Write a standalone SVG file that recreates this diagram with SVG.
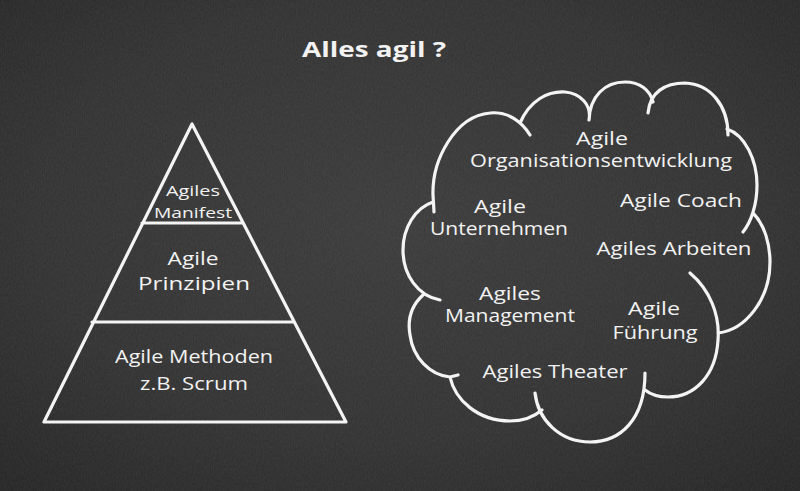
<svg xmlns="http://www.w3.org/2000/svg" width="800" height="491" viewBox="0 0 800 491">
  <defs>
    <radialGradient id="board" cx="50%" cy="45%" r="75%">
      <stop offset="0" stop-color="#3c3c3c"/>
      <stop offset="0.6" stop-color="#333333"/>
      <stop offset="1" stop-color="#262626"/>
    </radialGradient>
    <filter id="chalk" x="0" y="0" width="100%" height="100%">
      <feTurbulence type="fractalNoise" baseFrequency="0.9 0.35" numOctaves="2" seed="4" result="n"/>
      <feColorMatrix in="n" type="matrix" values="0 0 0 0 1  0 0 0 0 1  0 0 0 0 1  0 0 0 0.08 -0.015"/>
    </filter>
    <style>
      .line { fill: none; stroke: #f4f4f4; stroke-width: 3.2; stroke-linecap: round; stroke-linejoin: round; }
      .txt { font-family: "Open Sans", "Noto Sans", "DejaVu Sans", sans-serif; fill: #f2f2f2; text-anchor: middle; }
      .p-small { font-size: 14px; }
      .p-big { font-size: 18px; }
      .c { font-size: 18px; }
      .title { font-size: 22px; font-weight: bold; }
    </style>
  </defs>

  <rect width="800" height="491" fill="url(#board)"/>
  <rect width="800" height="491" filter="url(#chalk)"/>

  <g id="title">
    <text class="txt title" x="374" y="57" textLength="144" lengthAdjust="spacingAndGlyphs">Alles agil ?</text>
  </g>

  <g id="pyramid">
    <path class="line" d="M192,124 L44,422 L346,422 Z M142,223 L243,223 M92,322 L294,322"/>
  </g>
  <g id="pyr-top">
    <text class="txt p-small" x="193" y="196" textLength="54" lengthAdjust="spacingAndGlyphs">Agiles</text>
    <text class="txt p-small" x="193" y="218" textLength="78" lengthAdjust="spacingAndGlyphs">Manifest</text>
  </g>
  <g id="pyr-mid">
    <text class="txt p-big" x="193" y="265" textLength="51" lengthAdjust="spacingAndGlyphs">Agile</text>
    <text class="txt p-big" x="194" y="290" textLength="112" lengthAdjust="spacingAndGlyphs">Prinzipien</text>
  </g>
  <g id="pyr-bottom">
    <text class="txt p-big" x="194" y="363" textLength="158" lengthAdjust="spacingAndGlyphs">Agile Methoden</text>
    <text class="txt p-big" x="194" y="390" textLength="108" lengthAdjust="spacingAndGlyphs">z.B. Scrum</text>
  </g>

  <g id="cloud">
    <path class="line" d="
      M434,212 L433,195 C432,160 455,116 490,113 C508,111 522,122 530,135
      M520,123 C530,100 548,91 565,92 C580,93 592,105 589,120
      M589,120 C590,96 605,82 625,82 C640,82 650,90 653,102
      M648,113 C650,92 665,83 685,83 C710,84 728,105 728,135
      M727,129 C745,135 757,160 757,185 C757,205 751,222 743,232
      M753,213 C765,225 770,245 770,262 C770,300 745,330 718,333
      M690,273 C710,290 720,315 718,340 C716,375 695,397 668,397 C657,397 650,394 645,390
      M535,393 C538,420 560,442 590,442 C620,442 645,420 645,373
      M458,375 L450,377 C455,400 478,421 510,421 C525,421 535,416 542,410
      M423,295 C412,305 407,318 410,335 C413,358 430,375 450,377
      M433,202 C415,208 403,228 403,250 C403,275 418,296 440,300"/>
  </g>

  <g id="n-orgentwicklung">
    <text class="txt c" x="602" y="145" textLength="52" lengthAdjust="spacingAndGlyphs">Agile</text>
    <text class="txt c" x="601" y="167" textLength="262" lengthAdjust="spacingAndGlyphs">Organisationsentwicklung</text>
  </g>
  <g id="n-coach">
    <text class="txt c" x="681" y="207" textLength="122" lengthAdjust="spacingAndGlyphs">Agile Coach</text>
  </g>
  <g id="n-unternehmen">
    <text class="txt c" x="500" y="213" textLength="52" lengthAdjust="spacingAndGlyphs">Agile</text>
    <text class="txt c" x="499" y="235" textLength="138" lengthAdjust="spacingAndGlyphs">Unternehmen</text>
  </g>
  <g id="n-arbeiten">
    <text class="txt c" x="674" y="255" textLength="155" lengthAdjust="spacingAndGlyphs">Agiles Arbeiten</text>
  </g>
  <g id="n-management">
    <text class="txt c" x="510" y="300" textLength="62" lengthAdjust="spacingAndGlyphs">Agiles</text>
    <text class="txt c" x="510" y="322" textLength="130" lengthAdjust="spacingAndGlyphs">Management</text>
  </g>
  <g id="n-fuehrung">
    <text class="txt c" x="654" y="315" textLength="52" lengthAdjust="spacingAndGlyphs">Agile</text>
    <text class="txt c" x="655" y="339" font-size="17" textLength="85" lengthAdjust="spacingAndGlyphs">Führung</text>
  </g>
  <g id="n-theater">
    <text class="txt c" x="555" y="378" textLength="145" lengthAdjust="spacingAndGlyphs">Agiles Theater</text>
  </g>

  <g id="connectors"/>
</svg>
